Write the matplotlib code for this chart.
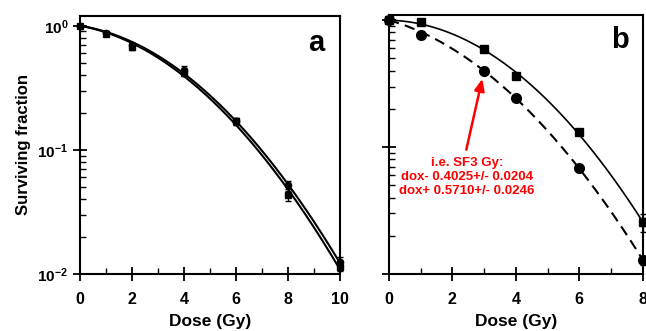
import numpy as np
import matplotlib
matplotlib.use("Agg")
import matplotlib.pyplot as plt
from matplotlib.ticker import FixedLocator, FuncFormatter, LogLocator, NullFormatter

plt.rcParams['font.family'] = ['Liberation Sans', 'DejaVu Sans']
plt.rcParams['font.weight'] = 'bold'
plt.rcParams['mathtext.fontset'] = 'custom'
plt.rcParams['mathtext.bf'] = 'Liberation Sans:bold'
plt.rcParams['mathtext.rm'] = 'Liberation Sans:bold'

# panel a
dose_a = [0, 1, 2, 4, 6, 8, 10]
sf_a_circ = [1.0, 0.88, 0.70, 0.44, 0.17, 0.052, 0.0125]
err_a_circ = [0.02, 0.03, 0.03, 0.03, 0.01, 0.004, 0.0012]
sf_a_sq = [1.0, 0.86, 0.68, 0.42, 0.17, 0.043, 0.0115]
err_a_sq = [0.02, 0.03, 0.04, 0.03, 0.01, 0.004, 0.0010]

# panel b
dose_b = [0, 1, 3, 4, 6, 8]
sf_dox_plus = [1.0, 0.97, 0.59, 0.365, 0.131, 0.0255]
err_dox_plus = [0.02, 0.03, 0.02, 0.02, 0.006, 0.004]
sf_dox_minus = [1.0, 0.76, 0.40, 0.245, 0.069, 0.0128]
err_dox_minus = [0.02, 0.02, 0.02, 0.01, 0.003, 0.001]

note = "i.e. SF3 Gy:\ndox- 0.4025+/- 0.0204\ndox+ 0.5710+/- 0.0246"


def lq_fit(d, s):
    # -ln S = alpha*D + beta*D^2
    d = np.asarray(d, float)
    A = np.column_stack([d, d ** 2])
    coef, *_ = np.linalg.lstsq(A, -np.log(s), rcond=None)
    return coef


def lq_curve(coef, dmax):
    dd = np.linspace(0, dmax, 200)
    return dd, np.exp(-coef[0] * dd - coef[1] * dd ** 2)


def style_axes(ax, xmax):
    ax.set_yscale('log')
    ax.set_xlim(0, xmax)
    ax.xaxis.set_major_locator(FixedLocator(np.arange(0, xmax + 1, 2)))
    ax.xaxis.set_minor_locator(FixedLocator(np.arange(1, xmax, 2)))
    ax.yaxis.set_major_locator(LogLocator(base=10, numticks=5))
    ax.yaxis.set_minor_locator(LogLocator(base=10, subs=np.arange(2, 10), numticks=10))
    ax.yaxis.set_minor_formatter(NullFormatter())
    ax.tick_params(which='major', direction='inout', length=10, width=1.3,
                   labelsize=11.5, top=False, right=False)
    ax.tick_params(axis='x', which='major', pad=8)
    ax.tick_params(which='minor', direction='in', length=4, width=1.0,
                   top=False, right=False)
    for sp in ax.spines.values():
        sp.set_linewidth(1.5)
    for lab in ax.get_xticklabels():
        lab.set_fontweight('bold')
    ax.set_xlabel("Dose (Gy)", fontsize=12.5, fontweight='bold', labelpad=5)


fig = plt.figure(figsize=(6.46, 3.31), dpi=100)
ax_a = fig.add_axes([0.1238, 0.172, 0.402, 0.780])
ax_b = fig.add_axes([0.602, 0.172, 0.393, 0.783])

# ---- a
for s, e, m in [(sf_a_circ, err_a_circ, 'o'), (sf_a_sq, err_a_sq, 's')]:
    dd, yy = lq_curve(lq_fit(dose_a, s), 10)
    ax_a.plot(dd, yy, color='black', lw=1.5)
    ax_a.errorbar(dose_a, s, yerr=e, fmt=m, color='black', ms=4.5,
                  capsize=2.5, elinewidth=1, clip_on=False, zorder=3)
style_axes(ax_a, 10)
ax_a.set_ylim(0.01, 1.2)
ax_a.yaxis.set_major_formatter(FuncFormatter(lambda v, p: r'$\mathbf{10^{%d}}$' % round(np.log10(v))))
ax_a.tick_params(axis='y', which='major', labelsize=11)
ax_a.set_ylabel("Surviving fraction", fontsize=12, fontweight='bold')
ax_a.yaxis.set_label_coords(-0.19, 0.5)
ax_a.text(0.91, 0.895, "a", transform=ax_a.transAxes, fontsize=21,
          fontweight='bold', ha='center', va='center')

# ---- b
dd, yy = lq_curve(lq_fit(dose_b, sf_dox_plus), 8)
ax_b.plot(dd, yy, color='black', lw=1.2)
dd, yy = lq_curve(lq_fit(dose_b, sf_dox_minus), 8)
ax_b.plot(dd, yy, color='black', lw=1.5, ls=(0, (5, 3)))
ax_b.errorbar(dose_b, sf_dox_plus, yerr=err_dox_plus, fmt='s', color='black',
              ms=5.5, capsize=2.5, elinewidth=1, clip_on=False, zorder=3)
ax_b.errorbar(dose_b, sf_dox_minus, yerr=err_dox_minus, fmt='o', color='black',
              ms=7, capsize=2.5, elinewidth=1, clip_on=False, zorder=3)
style_axes(ax_b, 8)
ax_b.set_ylim(0.01, 1.1)
ax_b.yaxis.set_major_formatter(NullFormatter())
ax_b.text(0.91, 0.905, "b", transform=ax_b.transAxes, fontsize=21,
          fontweight='bold', ha='center', va='center')

ax_b.annotate("", xy=(dose_b[2], sf_dox_minus[2]), xycoords='data',
              xytext=(0.305, 0.48), textcoords='axes fraction',
              arrowprops=dict(arrowstyle='-|>,head_width=0.3,head_length=0.7',
                              color='red', lw=1.8, shrinkA=0, shrinkB=6))
ax_b.text(0.307, 0.375, note, transform=ax_b.transAxes, color='red',
          fontsize=9.5, fontweight='bold', ha='center', va='center',
          linespacing=1.2)

fig.savefig("out.png", dpi=100)
